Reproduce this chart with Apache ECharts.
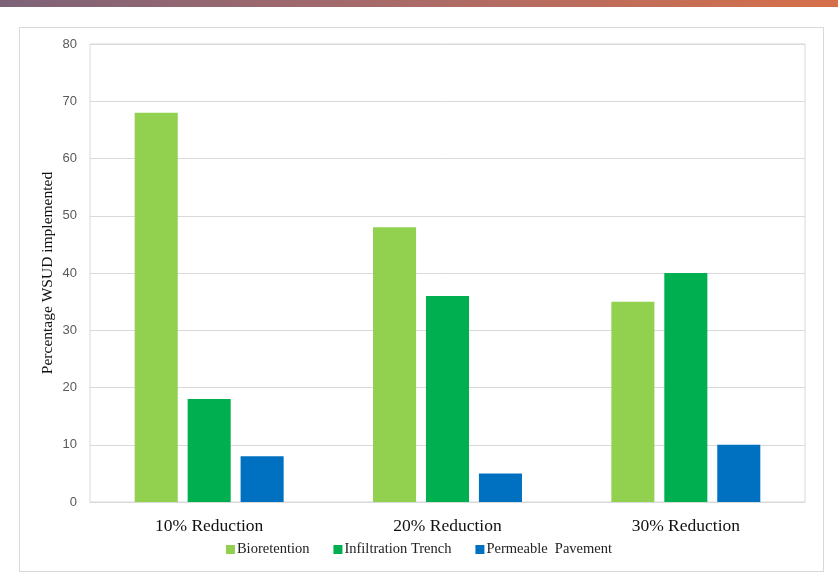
<!DOCTYPE html>
<html><head><meta charset="utf-8">
<script src="https://cdn.jsdelivr.net/npm/echarts@6/dist/echarts.min.js"></script>
<style>
html,body{margin:0;padding:0;background:#fff;}
#topbar{position:absolute;left:0;top:0;width:838px;height:7px;background:linear-gradient(to right,#7d6378,#a76a6a 45%,#d6704a);}
#frame{position:absolute;left:19px;top:27px;width:803px;height:543px;border:1px solid #d9d9d9;}
#c{position:absolute;left:0;top:0;width:838px;height:579px;}
</style></head>
<body>
<div id="topbar"></div>
<div id="frame"></div>
<div id="c"></div>
<script>
const categories = ['10% Reduction', '20% Reduction', '30% Reduction'];
const bioretention = [68, 48, 35];
const infiltrationTrench = [18, 36, 40];
const permeablePavement = [8, 5, 10];
const seriesNames = ['Bioretention', 'Infiltration Trench', 'Permeable  Pavement'];

const chart = echarts.init(document.getElementById('c'));
const serif = '"Liberation Serif", "Times New Roman", serif';
chart.setOption({
  animation: false,
  color: ['#92d050', '#00b050', '#0070c0'],
  grid: {left: 90, right: 33, top: 44, bottom: 77, show: true, borderColor: '#d9d9d9', borderWidth: 1},
  legend: {
    bottom: 17, left: 'center', itemWidth: 9, itemHeight: 9, itemGap: 24,
    icon: 'rect',
    textStyle: {fontFamily: serif, fontSize: 14.5, color: '#222', padding: [0, 0, 0, -3]},
    data: seriesNames
  },
  xAxis: {
    type: 'category', data: categories,
    axisLine: {show: true, lineStyle: {color: '#d9d9d9'}},
    axisTick: {show: false},
    axisLabel: {fontFamily: serif, fontSize: 17.5, color: '#111', margin: 15}
  },
  yAxis: {
    type: 'value', min: 0, max: 80, interval: 10,
    name: 'Percentage WSUD implemented', nameLocation: 'middle', nameGap: 34,
    nameMoveOverlap: false,
    nameTextStyle: {fontFamily: serif, fontSize: 15.5, color: '#111'},
    axisLine: {show: false}, axisTick: {show: false},
    axisLabel: {fontFamily: 'Arial, "Liberation Sans", sans-serif', fontSize: 13, color: '#595959', margin: 13},
    splitLine: {lineStyle: {color: '#d9d9d9'}}
  },
  series: [
    {name: seriesNames[0], type: 'bar', data: bioretention, barGap: '23%', barCategoryGap: '37.5%'},
    {name: seriesNames[1], type: 'bar', data: infiltrationTrench},
    {name: seriesNames[2], type: 'bar', data: permeablePavement}
  ]
});
</script>
</body></html>
